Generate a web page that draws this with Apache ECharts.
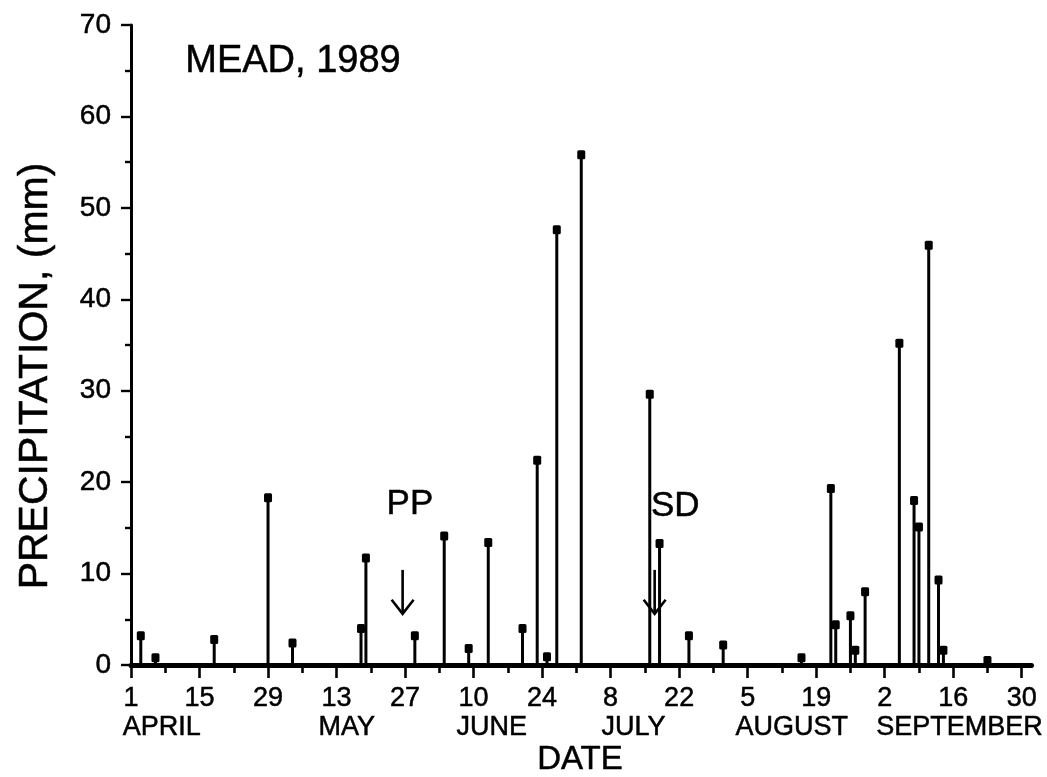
<!DOCTYPE html>
<html>
<head>
<meta charset="utf-8">
<script src="https://cdn.jsdelivr.net/npm/echarts@6/dist/echarts.min.js"></script>
<style>
  html, body { margin: 0; padding: 0; background: #fff; }
  #chart { width: 1047px; height: 777px; }
</style>
</head>
<body>
<div id="chart"></div>
<script>
// Days counted from 1 April 1989 (day 0)
const rainDays = [2, 5, 17, 28, 33, 47, 48, 58, 64, 69, 73, 80, 83, 85, 87, 92, 106, 108, 114, 121,
                  137, 143, 144, 147, 148, 150, 157, 160, 161, 163, 165, 166, 175];
const rainMM   = [3.2, 0.8, 2.8, 18.3, 2.4, 4.0, 11.7, 3.2, 14.1, 1.8, 13.4, 4.0, 22.4, 0.9, 47.6, 55.8, 29.6, 13.3, 3.2, 2.2,
                  0.8, 19.3, 4.4, 5.4, 1.6, 8.0, 35.2, 18.0, 15.1, 45.9, 9.3, 1.6, 0.5];

const xTickDays   = [0, 14, 28, 42, 56, 70, 84, 98, 112, 126, 140, 154, 168, 182];
const xTickLabels = ['1', '15', '29', '13', '27', '10', '24', '8', '22', '5', '19', '2', '16', '30'];
const minorTickDays = [7, 21, 35, 49, 63, 77, 91, 105, 119, 133, 147, 161, 175];
const monthNames = ['APRIL', 'MAY', 'JUNE', 'JULY', 'AUGUST', 'SEPTEMBER'];
const monthLabelDays = [6.3, 44.1, 73.7, 102.7, 135.0, 169.3];

// Event annotations: PP (planting) and SD
const eventNames = ['PP', 'SD'];
const eventLabelDays = [57.0, 111.2];
const eventLabelMM = [17.6, 17.4];
const arrowDays = [55.5, 107.0];
const arrowTopMM = [10.4, 10.4];
const arrowTipMM = [5.6, 5.6];

const FONT = 'Liberation Sans';
const INK = '#000';

const chart = echarts.init(document.getElementById('chart'), null, { renderer: 'canvas' });

const stemData = rainDays.map((d, i) => [d, rainMM[i]]);
const labelData = eventNames.map((n, i) => [eventLabelDays[i], eventLabelMM[i]]);
const arrowData = arrowDays.map((d, i) => [d, arrowTopMM[i], arrowTipMM[i]]);

const heavyLabel = { textBorderColor: INK, textBorderWidth: 0.5 };
const heavyText = { stroke: INK, lineWidth: 0.5 };

const option = {
  backgroundColor: '#fff',
  animation: false,
  grid: { left: 131, right: 15.5, top: 25, bottom: 112, containLabel: false },
  xAxis: [
    {
      type: 'value', min: 0, max: 184, position: 'bottom', offset: 0,
      splitLine: { show: false },
      axisLine: { show: true, onZero: false, lineStyle: { color: INK, width: 5 } },
      axisTick: { show: true, inside: false, length: 13, customValues: xTickDays, lineStyle: { color: INK, width: 2.6 } },
      axisLabel: Object.assign({
        customValues: xTickDays, margin: 20, color: INK, fontFamily: FONT, fontSize: 27,
        formatter: v => xTickLabels[xTickDays.indexOf(Math.round(v))] || ''
      }, heavyLabel)
    },
    {
      type: 'value', min: 0, max: 184, position: 'bottom', offset: 0,
      splitLine: { show: false },
      axisLine: { show: false },
      axisTick: { show: true, inside: false, length: 8, customValues: minorTickDays, lineStyle: { color: INK, width: 2.6 } },
      axisLabel: Object.assign({
        customValues: monthLabelDays, margin: 49, color: INK, fontFamily: FONT, fontSize: 27,
        formatter: v => {
          let best = 0;
          monthLabelDays.forEach((m, i) => { if (Math.abs(m - v) < Math.abs(monthLabelDays[best] - v)) best = i; });
          return monthNames[best];
        }
      }, heavyLabel)
    }
  ],
  yAxis: {
    type: 'value', min: 0, max: 70, interval: 10,
    splitLine: { show: false },
    axisLine: { show: true, lineStyle: { color: INK, width: 3 } },
    axisTick: { show: true, inside: false, length: 10, lineStyle: { color: INK, width: 2.4 } },
    minorTick: { show: true, splitNumber: 2, length: 6, lineStyle: { color: INK, width: 2.4 } },
    axisLabel: Object.assign({ margin: 20, color: INK, fontFamily: FONT, fontSize: 28 }, heavyLabel)
  },
  graphic: [
    { type: 'text', left: 185, top: 42, style: Object.assign({ text: 'MEAD, 1989', font: '38px "Liberation Sans"', fill: INK }, heavyText) },
    { type: 'text', x: 580, y: 760, style: Object.assign({ text: 'DATE', font: '33px "Liberation Sans"', fill: INK, align: 'center', verticalAlign: 'middle' }, heavyText) },
    { type: 'text', x: 36, y: 376, rotation: Math.PI / 2,
      style: Object.assign({ text: 'PRECIPITATION, (mm)', font: '41px "Liberation Sans"', fill: INK, align: 'center', verticalAlign: 'middle' }, heavyText) }
  ],
  series: [
    {
      type: 'custom', xAxisIndex: 0, yAxisIndex: 0, clip: false,
      data: stemData,
      encode: { x: 0, y: 1 },
      renderItem: (params, api) => {
        const x = api.value(0), v = api.value(1);
        const p0 = api.coord([x, 0]);
        const p1 = api.coord([x, v]);
        return {
          type: 'group',
          children: [
            { type: 'line', shape: { x1: p0[0], y1: p0[1], x2: p1[0], y2: p1[1] }, style: { stroke: INK, lineWidth: 3 } },
            { type: 'rect', shape: { x: p1[0] - 4, y: p1[1] - 4.5, width: 8, height: 9, r: 1.5 }, style: { fill: INK } }
          ]
        };
      }
    },
    {
      type: 'custom', xAxisIndex: 0, yAxisIndex: 0, clip: false,
      data: arrowData,
      encode: { x: 0, y: [1, 2] },
      renderItem: (params, api) => {
        const x = api.value(0);
        const top = api.coord([x, api.value(1)]);
        const tip = api.coord([x, api.value(2)]);
        return {
          type: 'group',
          children: [
            { type: 'line', shape: { x1: top[0], y1: top[1], x2: tip[0], y2: tip[1] }, style: { stroke: INK, lineWidth: 2.6 } },
            { type: 'polyline', shape: { points: [[tip[0] - 11, tip[1] - 14], [tip[0], tip[1]], [tip[0] + 11, tip[1] - 14]] },
              style: { stroke: INK, lineWidth: 2.6, fill: null } }
          ]
        };
      }
    },
    {
      type: 'custom', xAxisIndex: 0, yAxisIndex: 0, clip: false,
      data: labelData,
      encode: { x: 0, y: 1 },
      renderItem: (params, api) => {
        const p = api.coord([api.value(0), api.value(1)]);
        return {
          type: 'text', x: p[0], y: p[1],
          style: Object.assign({ text: eventNames[params.dataIndex], font: '35px "Liberation Sans"', fill: INK, align: 'center', verticalAlign: 'middle' }, heavyText)
        };
      }
    }
  ]
};

chart.setOption(option);
</script>
</body>
</html>
